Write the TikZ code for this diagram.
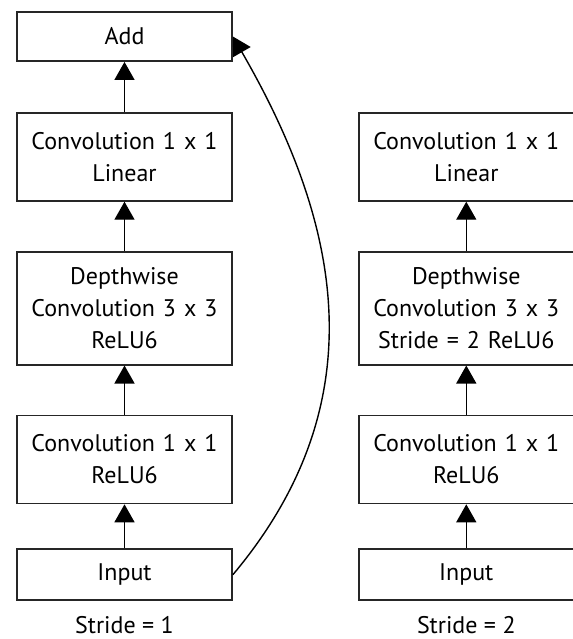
\documentclass[tikz,border=0pt]{standalone}
\usepackage{fontspec}
\setmainfont{PT Sans}
\usetikzlibrary{arrows.meta,positioning}

\begin{document}
\begin{tikzpicture}[
  node distance=24.5pt and 62.5pt,
  box/.style={rectangle, draw=black!85, line width=0.9pt, fill=white, align=center,
              inner xsep=3.75pt, inner ysep=2pt, text width=100pt,
              font=\fontsize{12}{16}\selectfont, minimum height=44pt},
  onebox/.style={box, minimum height=25pt},
  tallbox/.style={box, minimum height=56.5pt},
  stridelabel/.style={font=\fontsize{12}{14}\selectfont, inner sep=0pt},
  arr/.style={-{Triangle[length=9pt,width=10pt]}, draw=black, line width=0.7pt}
]
\useasboundingbox (0,0) rectangle (286.5pt,-319.5pt);
% stride 1 block
\node[onebox, minimum height=24.5pt] (add) at (62.25pt,-18.25pt) {Add};
\node[box, below=25pt of add] (lin) {Convolution 1 x 1\\Linear};
\node[tallbox, below=of lin] (dw) {Depthwise\\Convolution 3 x 3\\ReLU6};
\node[box, below=of dw] (pw) {Convolution 1 x 1\\ReLU6};
\node[onebox, minimum height=25.5pt, below=22pt of pw] (in) {Input};
\node[stridelabel, below=16pt of in.south, anchor=base] (s1) {Stride = 1};
% stride 2 block
\node[box, right=of lin] (rlin) {Convolution 1 x 1\\Linear};
\node[tallbox, below=of rlin] (rdw) {Depthwise\\Convolution 3 x 3\\Stride = 2 ReLU6};
\node[box, below=of rdw] (rpw) {Convolution 1 x 1\\ReLU6};
\node[onebox, minimum height=25.5pt, below=22pt of rpw] (rin) {Input};
\node[stridelabel, below=16pt of rin.south, anchor=base] (s2) {Stride = 2};
% arrows
\draw[arr] (lin) -- (add); \draw[arr] (dw) -- (lin);
\draw[arr] (pw) -- (dw); \draw[arr] (in) -- (pw);
\draw[arr] (rdw) -- (rlin); \draw[arr] (rpw) -- (rdw);
\draw[arr] (rin) -- (rpw);
\draw[arr] (in.east) .. controls +(50:115pt) and +(-60:105pt) .. (add.east);
\end{tikzpicture}
\end{document}
